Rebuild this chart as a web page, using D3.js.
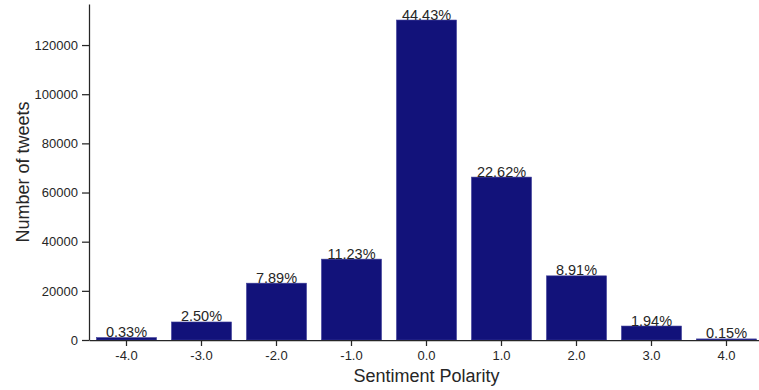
<!DOCTYPE html>
<html lang="en">
<head>
    <title>Sentiment Polarity</title>
    <script src="https://d3js.org/d3.v7.min.js"></script>
    <style>
        body { margin: 0; background: #fff; }
        text { font-family: "Liberation Sans", Arial, sans-serif; fill: #262626; }
        .axis path, .axis line { stroke: #262626; stroke-width: 1.25; }
    </style>
</head>
<body>

<script>
    const polarity = ["-4.0", "-3.0", "-2.0", "-1.0", "0.0", "1.0", "2.0", "3.0", "4.0"];
    const tweetCounts = [970, 7330, 23120, 32900, 130180, 66280, 26100, 5680, 440];
    const percentLabels = ["0.33%", "2.50%", "7.89%", "11.23%", "44.43%", "22.62%", "8.91%", "1.94%", "0.15%"];
    const yTicks = [0, 20000, 40000, 60000, 80000, 100000, 120000];

    const width = 759, height = 390;
    const mLeft = 89, mRight = 764, mTop = 4, mBottom = 340;

    const svg = d3.select("body").append("svg")
            .attr("width", width).attr("height", height);

    const x = d3.scaleBand().domain(polarity).range([mLeft, mRight]).paddingInner(0.2).paddingOuter(0.1);
    const y = d3.scaleLinear().domain([0, 136700]).range([mBottom, mTop]);

    // bars
    svg.append("g")
            .selectAll("rect")
            .data(polarity).join("rect")
            .attr("x", d => x(d))
            .attr("width", x.bandwidth())
            .attr("y", (d, i) => y(tweetCounts[i]))
            .attr("height", (d, i) => mBottom - y(tweetCounts[i]))
            .attr("fill", "#12127a")
            .attr("stroke", "#3d3d99")
            .attr("stroke-width", 0.6);

    // percentage labels
    svg.append("g")
            .selectAll("text")
            .data(polarity).join("text")
            .attr("x", d => x(d) + x.bandwidth() / 2)
            .attr("y", (d, i) => y(tweetCounts[i]) - 0.5)
            .attr("text-anchor", "middle")
            .style("font-size", "14.5px")
            .text((d, i) => percentLabels[i]);

    // axes
    const xAxis = svg.append("g").attr("class", "axis")
            .attr("transform", `translate(0,${mBottom})`)
            .call(d3.axisBottom(x).tickSize(6).tickPadding(5).tickSizeOuter(0));
    xAxis.selectAll("text").style("font-size", "13px").attr("fill", "#262626");

    const yAxis = svg.append("g").attr("class", "axis")
            .attr("transform", `translate(${mLeft},0)`)
            .call(d3.axisLeft(y).tickValues(yTicks).tickFormat(d3.format("d")).tickSize(7).tickPadding(4).tickSizeOuter(0));
    yAxis.selectAll("text").style("font-size", "13px").attr("fill", "#262626");

    // axis titles
    svg.append("text")
            .attr("x", (mLeft + mRight) / 2)
            .attr("y", 382)
            .attr("text-anchor", "middle")
            .style("font-size", "18px")
            .text("Sentiment Polarity");

    svg.append("text")
            .attr("transform", `translate(29,${(mTop + mBottom) / 2}) rotate(-90)`)
            .attr("text-anchor", "middle")
            .style("font-size", "18px")
            .text("Number of tweets");
</script>

</body>
</html>
